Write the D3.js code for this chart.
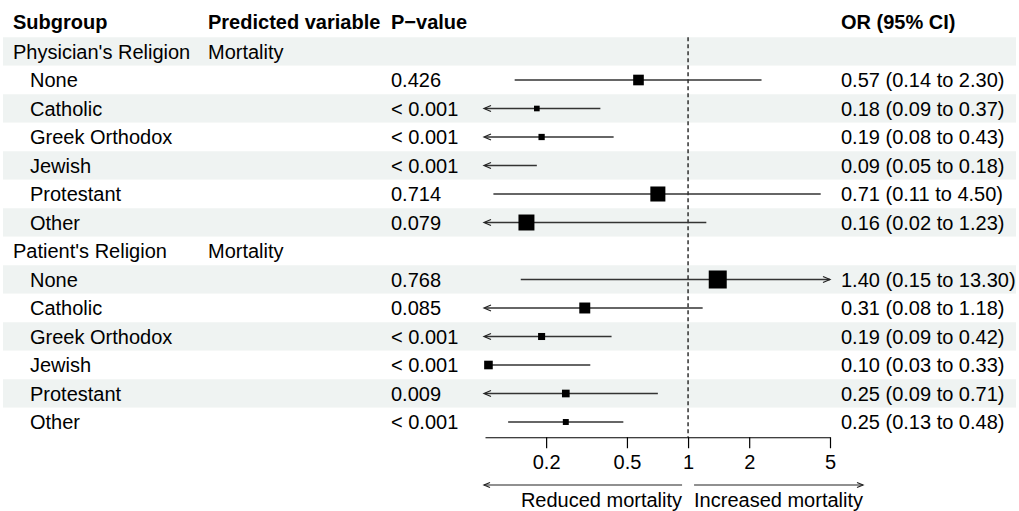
<!DOCTYPE html>
<html>
<head>
<meta charset="utf-8">
<script src="https://cdn.jsdelivr.net/npm/d3@7"></script>
<style>
  body { margin: 0; background: #fff; }
  svg text { font-family: 'Liberation Sans', Arial, Helvetica, sans-serif; fill: #000; }
</style>
</head>
<body>
<svg id="chart" width="1019" height="511"></svg>
<script>
const groups = ["Physician's Religion", "Patient's Religion"]
const religions = ['None', 'Catholic', 'Greek Orthodox', 'Jewish', 'Protestant', 'Other']
const outcome = 'Mortality'

// one entry per religion, physicians first then patients
const pValues = ['0.426', '< 0.001', '< 0.001', '< 0.001', '0.714', '0.079',
  '0.768', '0.085', '< 0.001', '< 0.001', '0.009', '< 0.001']
const orEst = [0.57, 0.18, 0.19, 0.09, 0.71, 0.16, 1.40, 0.31, 0.19, 0.104, 0.25, 0.25]
const ciLower = [0.14, 0.09, 0.08, 0.05, 0.11, 0.02, 0.15, 0.08, 0.09, 0.03, 0.09, 0.13]
const ciUpper = [2.30, 0.37, 0.43, 0.18, 4.50, 1.23, 13.30, 1.18, 0.42, 0.33, 0.71, 0.48]
const weights = [0.68, 0.36, 0.40, 0.33, 0.96, 1.02, 1.15, 0.70, 0.45, 0.55, 0.49, 0.38]

const xLimits = [0.1, 5]
const xTicks = [0.2, 0.5, 1, 2, 5]
const headers = ['Subgroup', 'Predicted variable', 'P\u2212value', 'OR (95% CI)']
const arrowLabels = ['Reduced mortality', 'Increased mortality']

const fontSize = 20
const rowH = 28.5
const firstRowY = 51.5
const colX = [13, 208, 391, 841]
const indent = 17
const bandFill = '#eff3f2'

const svg = d3.select('#chart')

// flatten into table rows
const rows = []
groups.forEach((g, gi) => {
  rows.push({ kind: 'group', label: g })
  religions.forEach((r, ri) => {
    const i = gi * religions.length + ri
    rows.push({
      kind: 'item',
      label: r,
      p: pValues[i],
      est: orEst[i],
      lo: ciLower[i],
      hi: ciUpper[i],
      w: weights[i],
    })
  })
})

const y = d3.scaleLinear()
    .domain([0, 1])
    .range([firstRowY, firstRowY + rowH])

const x = d3.scaleLog()
    .domain(xLimits)
    .range([485, 830])

const boxSize = d3.scaleLinear()
    .domain([0, d3.max(weights)])
    .range([0, 18])

// bands
svg.append('g')
  .selectAll('rect')
  .data(rows)
  .join('rect')
    .attr('x', 3)
    .attr('y', (d, i) => y(i) - rowH / 2)
    .attr('width', 1013)
    .attr('height', rowH)
    .attr('fill', (d, i) => i % 2 === 0 ? bandFill : '#fff')

// header
svg.append('g')
  .selectAll('text')
  .data(headers)
  .join('text')
    .attr('x', (d, i) => colX[i])
    .attr('y', 22)
    .attr('dy', '0.35em')
    .attr('font-size', fontSize)
    .attr('font-weight', 'bold')
    .text(d => d)

// table text
const cells = svg.append('g')
    .attr('font-size', fontSize)

rows.forEach((d, i) => {
  const row = cells.append('g')
      .attr('transform', `translate(0,${y(i)})`)

  if (d.kind === 'group') {
    row.append('text')
        .attr('x', colX[0])
        .attr('dy', '0.35em')
        .text(d.label)
    row.append('text')
        .attr('x', colX[1])
        .attr('dy', '0.35em')
        .text(outcome)
    return
  }

  row.append('text')
      .attr('x', colX[0] + indent)
      .attr('dy', '0.35em')
      .text(d.label)
  row.append('text')
      .attr('x', colX[2])
      .attr('dy', '0.35em')
      .text(d.p)
  row.append('text')
      .attr('x', colX[3])
      .attr('dy', '0.35em')
      .text(`${d.est.toFixed(2)} (${d.lo.toFixed(2)} to ${d.hi.toFixed(2)})`)
})

// reference line
svg.append('line')
    .attr('x1', x(1))
    .attr('x2', x(1))
    .attr('y1', y(0) - rowH / 2)
    .attr('y2', y(rows.length - 1) + rowH / 2 + 1)
    .attr('stroke', '#222')
    .attr('stroke-width', 1.4)
    .attr('stroke-dasharray', '4,3')

function arrowHead(g, tipX, cy, dir, len, half) {
  g.append('path')
      .attr('d', `M${tipX - dir * len},${cy - half}L${tipX},${cy}L${tipX - dir * len},${cy + half}`)
      .attr('fill', 'none')
      .attr('stroke', '#222')
      .attr('stroke-width', 1.2)
}

// whiskers and boxes
const plot = svg.append('g')
const [xMin, xMax] = x.range()

rows.forEach((d, i) => {
  if (d.kind !== 'item') return
  const cy = y(i)
  const inRange = d.est >= xLimits[0] && d.est <= xLimits[1]
  const x0 = Math.max(x(Math.max(d.lo, xLimits[0])), xMin)
  const x1 = Math.min(x(Math.min(d.hi, xLimits[1])), xMax)

  plot.append('line')
      .attr('x1', x0)
      .attr('x2', x1)
      .attr('y1', cy)
      .attr('y2', cy)
      .attr('stroke', '#333')
      .attr('stroke-width', 1.3)

  if (d.lo < xLimits[0] && !(inRange && x(d.est) - xMin < 8))
    arrowHead(plot, xMin - 1, cy, -1, 7, 3)
  if (d.hi > xLimits[1])
    arrowHead(plot, xMax, cy, 1, 7, 3)

  if (inRange) {
    const s = boxSize(d.w)
    plot.append('rect')
        .attr('x', x(d.est) - s / 2)
        .attr('y', cy - s / 2)
        .attr('width', s)
        .attr('height', s)
        .attr('fill', '#000')
  }
})

// x axis
const axisY = y(rows.length - 1) + rowH / 2 + 1
const axis = svg.append('g')
    .attr('transform', `translate(0,${axisY})`)
    .call(d3.axisBottom(x)
      .tickValues(xTicks)
      .tickFormat(d3.format('~g'))
      .tickSize(11)
      .tickPadding(7)
      .tickSizeOuter(0))

axis.select('.domain')
    .attr('stroke', '#000')
    .attr('stroke-width', 1.2)
axis.selectAll('.tick line')
    .attr('stroke', '#000')
    .attr('stroke-width', 1.2)
axis.selectAll('.tick text')
    .attr('font-size', fontSize)
    .attr('font-family', "'Liberation Sans', Arial, Helvetica, sans-serif")
    .attr('fill', '#000')

// direction arrows under the axis
const dirY = 485
const gap = 6
const under = svg.append('g')

under.append('line')
    .attr('x1', xMin - 1)
    .attr('x2', x(1) - gap)
    .attr('y1', dirY)
    .attr('y2', dirY)
    .attr('stroke', '#222')
    .attr('stroke-width', 1.1)
arrowHead(under, xMin - 1, dirY, -1, 6, 2.5)

under.append('line')
    .attr('x1', x(1) + gap)
    .attr('x2', 863)
    .attr('y1', dirY)
    .attr('y2', dirY)
    .attr('stroke', '#222')
    .attr('stroke-width', 1.1)
arrowHead(under, 863, dirY, 1, 6, 2.5)

under.append('text')
    .attr('x', x(1) - gap)
    .attr('y', 506.5)
    .attr('text-anchor', 'end')
    .attr('font-size', fontSize)
    .text(arrowLabels[0])

under.append('text')
    .attr('x', x(1) + gap)
    .attr('y', 506.5)
    .attr('font-size', fontSize)
    .text(arrowLabels[1])
</script>
</body>
</html>
